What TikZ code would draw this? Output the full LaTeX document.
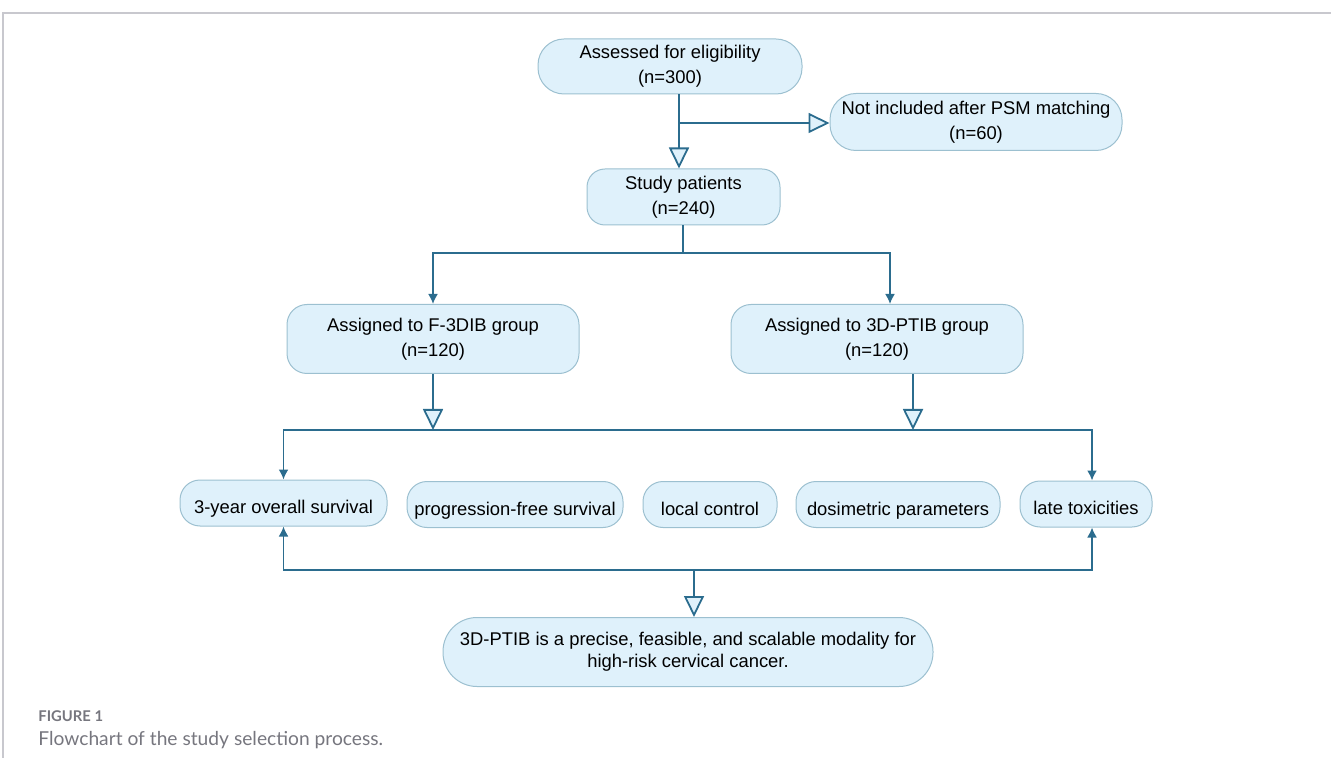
\documentclass[tikz,border=0pt]{standalone}
\usepackage{fontspec}
\setmainfont{Liberation Sans}
\newfontfamily\capfont{Lato}
\usetikzlibrary{arrows.meta}

\definecolor{linecol}{HTML}{2B6C8E}
\definecolor{boxfill}{HTML}{DFF1FB}
\definecolor{boxline}{HTML}{9CC0D0}
\definecolor{framecol}{HTML}{C8C8CE}
\definecolor{capgray}{HTML}{76767E}

\begin{document}
\begin{tikzpicture}[
		x=0.5pt,y=-0.5pt,
		box/.style={draw=boxline,fill=boxfill,line width=0.5pt,align=center,inner sep=0pt,
			font=\fontsize{9.2}{12.5}\selectfont},
		pill/.style={box,rounded corners=13pt},
		card/.style={box,rounded corners=10pt},
		outcome/.style={box,rounded corners=10pt,minimum height=23pt,text height=10.5pt,text depth=0pt},
		link/.style={linecol,line width=0.9pt},
		opentip/.style={-{Triangle[width=10pt,length=10.5pt,fill=boxfill]}},
		filltip/.style={-{Latex[width=5pt,length=5pt]}}
	]
		\useasboundingbox (0,0) rectangle (1331,758);

		%frame
		\draw[framecol,line width=0.7pt] (3,758) -- (3,13) -- (1331,13);

		%screening
		\node[pill,minimum width=132pt,minimum height=27.5pt] (assess) at (670,66.5) {Assessed for eligibility\\(n=300)};
		\node[pill,minimum width=146pt,minimum height=28.5pt] (excl) at (976,122) {Not included after PSM matching\\(n=60)};
		\node[card,rounded corners=9pt,minimum width=96.5pt,minimum height=28pt] (study) at (683.5,197) {Study patients\\(n=240)};

		%groups
		\node[card,minimum width=146pt,minimum height=34.5pt] (armA) at (433,339) {Assigned to F-3DIB group\\(n=120)};
		\node[card,minimum width=146pt,minimum height=34.5pt] (armB) at (877,339) {Assigned to 3D-PTIB group\\(n=120)};

		%outcomes
		\node[outcome,minimum width=103.5pt] (os) at (283.5,503) {3-year overall survival};
		\node[outcome,minimum width=108pt] (pfs) at (515,504.5) {progression-free survival};
		\node[outcome,minimum width=67pt] (lc) at (710,504.5) {local control};
		\node[outcome,minimum width=102pt] (dose) at (898,504.5) {dosimetric parameters};
		\node[outcome,minimum width=66pt] (late) at (1086,504) {late toxicities};

		%conclusion
		\node[box,rounded corners=17pt,minimum width=245pt,minimum height=34.5pt,
			font=\fontsize{9.2}{11}\selectfont] (concl) at (688,652)
			{3D-PTIB is a precise, feasible, and scalable modality for\\high-risk cervical cancer.};

		%connectors
		\coordinate (split1) at (679,123);
		\coordinate (split2) at (683,253);
		\coordinate (bin) at (890,0);
		\coordinate (merge) at (433,430);
		\coordinate (bout) at (913,430);
		\coordinate (lx) at (1092,0);
		\coordinate (join) at (694,570);

		\draw[link,opentip] (split1 |- assess.south) -- (split1 |- study.north);
		\draw[link,opentip] (split1) -- (split1 -| excl.west);

		\draw[link] (split2 |- study.south) -- (split2);
		\draw[link,filltip] (split2) -| (armA.north);
		\draw[link,filltip] (split2) -| (bin |- armB.north);

		\draw[link,opentip] (armA.south) -- (merge);
		\draw[link,opentip] (bout |- armB.south) -- (bout);
		\draw[link] (merge) -- (bout);
		\draw[link,filltip] (merge) -| (os.north);
		\draw[link,filltip] (bout) -| (lx |- late.north);

		\draw[link,filltip] (join) -| (os.south);
		\draw[link,filltip] (join) -| (lx |- late.south);
		\draw[link,opentip] (join) -- (join |- concl.north);

		%caption
		\node[anchor=base west,inner sep=0pt,text=capgray,font=\capfont\bfseries\fontsize{7.4}{8}\selectfont] (figno) at (38,721) {FIGURE 1};
		\node[anchor=base west,inner sep=0pt,text=capgray,font=\capfont\fontsize{9.6}{10}\selectfont] (figcap) at (38,745) {Flowchart of the study selection process.};
\end{tikzpicture}
\end{document}
